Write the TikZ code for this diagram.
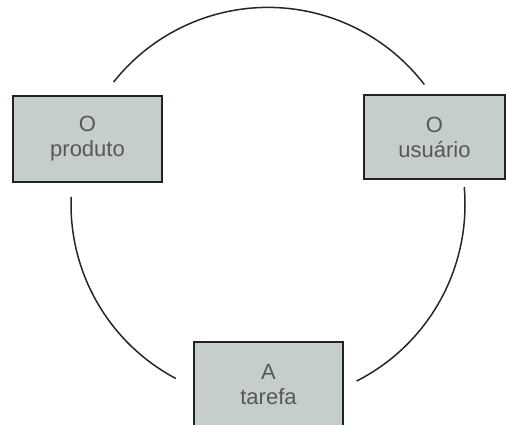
\documentclass[tikz,border=0pt]{standalone}
\usepackage{fontspec}
\setmainfont{Liberation Sans}
\definecolor{boxfill}{RGB}{197,206,201}
\definecolor{boxline}{RGB}{34,34,34}
\definecolor{txt}{RGB}{88,88,88}
\begin{document}
\begin{tikzpicture}[x=1pt,y=1pt,
  box/.style={draw=boxline, line width=1.6pt, fill=boxfill, rectangle,
    inner sep=0pt, align=center, text=txt,
    font=\fontsize{22}{25}\selectfont},
  link/.style={draw=black!85, line width=1.5pt}]
\useasboundingbox (0,0) rectangle (507,425);
\clip (0,0) rectangle (507,425);
% boxes
\node[box, minimum width=149pt, minimum height=86pt] (prod) at (87.5,286) {O\\produto};
\node[box, minimum width=141pt, minimum height=84pt] (user) at (434.5,288) {O\\usuário};
\node[box, minimum width=149pt, minimum height=86pt] (task) at (268.5,40) {A\\tarefa};
% circle centre
\coordinate (c) at (268,220.6);
\path (c) ++(141.6:197) coordinate (tl);
\path (c) ++(177.8:197) coordinate (ls);
\path (c) ++(5.0:197) coordinate (rs);
% connectors along the circle
\draw[link] (tl) arc[start angle=141.6, end angle=37.5, radius=197];
\draw[link] (ls) arc[start angle=177.8, end angle=242.1, radius=197];
\draw[link] (rs) arc[start angle=5.0, end angle=-63.1, radius=198];
\end{tikzpicture}
\end{document}
